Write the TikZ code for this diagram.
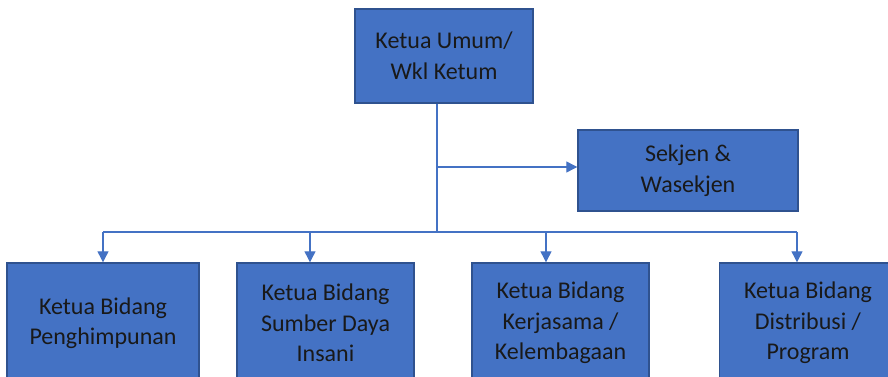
\documentclass[tikz,border=0pt]{standalone}
\usepackage{fontspec}
\setmainfont{Carlito}
\usetikzlibrary{arrows.meta}
\definecolor{boxfill}{HTML}{4472C4}
\definecolor{boxline}{HTML}{2F528F}
\definecolor{conncol}{HTML}{4472C4}
\tikzset{
  orgbox/.style={draw=boxline, line width=1.4pt, fill=boxfill, align=center,
    inner sep=0pt, font=\fontsize{24}{30.5}\selectfont, text=black!90},
  connline/.style={draw=conncol, line width=1.2pt},
  connarrow/.style={connline, -{Triangle[length=11pt,width=11pt]}}
}
\begin{document}
\begin{tikzpicture}[x=1pt,y=-1pt]
\useasboundingbox (0,0) rectangle (888,377);
\clip (0,0) rectangle (888,377);
\node[orgbox, minimum width=178pt, minimum height=94pt] (top) at (444,56) {Ketua Umum/\\Wkl Ketum};
\node[orgbox, minimum width=220pt, minimum height=81pt] (sek) at (688,170.5) {Sekjen \&\\Wasekjen};
\node[orgbox, minimum width=192pt, minimum height=120pt] (b1) at (103,323) {Ketua Bidang\\Penghimpunan};
\node[orgbox, minimum width=177pt, minimum height=120pt] (b2) at (325.5,323) {Ketua Bidang\\Sumber Daya\\Insani};
\node[orgbox, minimum width=177pt, minimum height=120pt] (b3) at (560.5,323) {Ketua Bidang\\Kerjasama /\\Kelembagaan};
\node[orgbox, minimum width=177pt, minimum height=120pt] (b4) at (808,323) {Ketua Bidang\\Distribusi /\\Program};
\coordinate (v) at (437,232);
\coordinate (sa) at (437,167);
\coordinate (p1) at (103,232);
\coordinate (p2) at (310,232);
\coordinate (p3) at (546,232);
\coordinate (p4) at (797,232);
\draw[connline] (top.south -| v) -- (v);
\draw[connarrow] (sa) -- (sa -| sek.west);
\draw[connline] (p1) -- (p4);
\draw[connarrow] (p1) -- (p1 |- b1.north);
\draw[connarrow] (p2) -- (p2 |- b2.north);
\draw[connarrow] (p3) -- (p3 |- b3.north);
\draw[connarrow] (p4) -- (p4 |- b4.north);
\end{tikzpicture}
\end{document}
